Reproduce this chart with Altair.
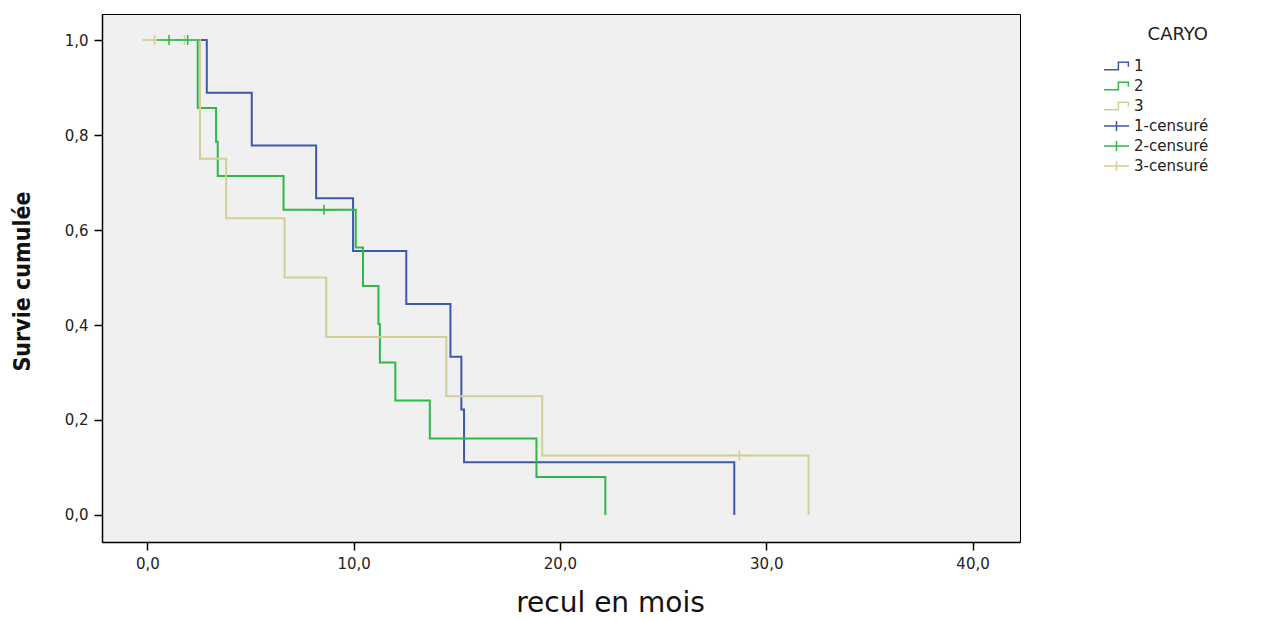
import altair as alt
import pandas as pd

# ---- data ----
groups = ["1", "2", "3"]

# group 1 (blue) step points: time, cumulative survival
t1 = [0.0, 2.88, 5.06, 8.18, 9.97, 12.55, 14.69, 15.22, 15.35, 28.45]
s1 = [1.0, 0.889, 0.778, 0.667, 0.556, 0.444, 0.333, 0.222, 0.111, 0.0]

# group 2 (green)
t2 = [0.0, 2.44, 3.33, 3.41, 6.6, 10.1, 10.45, 11.2, 11.27, 12.02, 13.69, 18.86, 22.2]
s2 = [1.0, 0.857, 0.786, 0.714, 0.643, 0.563, 0.482, 0.402, 0.321, 0.241, 0.161, 0.080, 0.0]

# group 3 (beige)
t3 = [0.0, 2.55, 3.82, 6.65, 8.67, 14.49, 19.14, 32.05]
s3 = [1.0, 0.75, 0.625, 0.5, 0.375, 0.25, 0.125, 0.0]

# censored observations
c_t = [0.35, 1.8, 1.05, 1.95, 8.56, 28.7]
c_s = [1.0, 1.0, 1.0, 1.0, 0.643, 0.125]
c_k = ["3-censuré", "3-censuré", "2-censuré", "2-censuré", "2-censuré", "3-censuré"]

keys = ["1", "2", "3", "1-censuré", "2-censuré", "3-censuré"]
palette = ["#3E58AC", "#2EB848", "#D3CE97", "#3E58AC", "#2EB848", "#D3CE97"]
x_ticks = [0, 10, 20, 30, 40]
y_ticks = [0.0, 0.2, 0.4, 0.6, 0.8, 1.0]

# ---- tables ----
rows = []
for g, ts, ss in zip(groups, [t1, t2, t3], [s1, s2, s3]):
    for t, s in zip(ts, ss):
        rows.append({"t": t, "s": s, "key": g})
lines_df = pd.DataFrame(rows)
cens_df = pd.DataFrame({"t": c_t, "s": c_s, "key": c_k})

step_path = "M -1 0.3 L 0.15 0.3 L 0.15 -0.3 L 0.95 -0.3 L 0.95 0.05"
cross_path = "M -1 0 L 1 0 M 0 -0.4 L 0 0.4"
shapes = [step_path] * 3 + [cross_path] * 3

label_expr = "replace(format(datum.value, '.1f'), '.', ',')"
SANS = "DejaVu Sans"
NARROW = "'Liberation Sans Narrow', 'DejaVu Sans Condensed', 'DejaVu Sans', sans-serif"

legend = alt.Legend(
    title="CARYO", orient="none", legendX=1001, legendY=12,
    titleFont=SANS, titleFontSize=18, titleFontWeight="normal",
    titleColor="#222", titleAnchor="end", titlePadding=12,
    labelFont=SANS, labelFontSize=15, labelColor="#222", labelOffset=4,
    symbolSize=625, symbolStrokeWidth=1.5, clipHeight=20, rowPadding=0,
)

color = alt.Color("key:N", scale=alt.Scale(domain=keys, range=palette), legend=legend)

axis_common = dict(
    grid=False, domainColor="#000000", domainWidth=1.5,
    tickColor="#000000", tickWidth=1.5, tickSize=8,
    labelFont=SANS, labelFontSize=15, labelColor="#222", titleColor="#111",
    labelExpr=label_expr, labelPadding=6,
)

x = alt.X(
    "t:Q",
    scale=alt.Scale(domain=[-2.2, 42.3], nice=False, zero=False),
    axis=alt.Axis(
        values=x_ticks, title="recul en mois",
        titleFont=SANS, titleFontSize=28, titleFontWeight="normal",
        titleX=508, titleY=69, titleAlign="center", titleBaseline="alphabetic",
        **axis_common,
    ),
)
y = alt.Y(
    "s:Q",
    scale=alt.Scale(domain=[-0.057, 1.055], nice=False, zero=False),
    axis=alt.Axis(
        values=y_ticks, title="Survie cumulée",
        titleFont=NARROW, titleFontSize=23, titleFontWeight="bold",
        titleAngle=270, titleX=-80, titleY=267, titleAlign="center",
        titleBaseline="middle",
        **axis_common,
    ),
)

lines = alt.Chart(lines_df).mark_line(interpolate="step-after", strokeWidth=2).encode(
    x=x, y=y, color=color, detail="key:N"
)

cens = alt.Chart(cens_df).mark_point(filled=False, strokeWidth=1.5, size=625, opacity=1).encode(
    x=x, y=y, color=color,
    shape=alt.Shape("key:N", scale=alt.Scale(domain=keys, range=shapes), legend=legend),
)

chart = (
    alt.layer(lines, cens)
    .properties(
        width=918, height=528,
        background="#FFFFFF",
        autosize=alt.AutoSizeParams(type="none"),
        padding={"left": 94, "top": 6, "right": 240, "bottom": 76},
    )
    .configure_view(fill="#F0F0F0", stroke="#000000", strokeWidth=1)
)

chart.save("out.html", embed_options={"renderer": "svg", "actions": False})
